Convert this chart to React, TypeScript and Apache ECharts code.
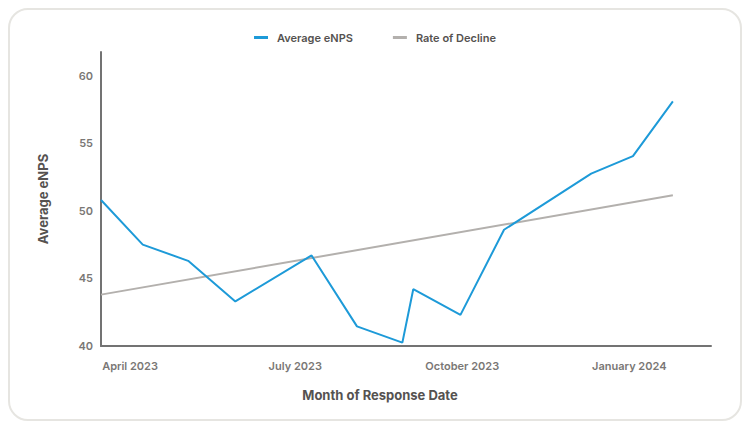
import React, { useEffect, useRef } from "react";
import * as echarts from "echarts";

const responseDates = [
  "2023-03-16", "2023-04-08", "2023-05-03", "2023-05-29", "2023-07-10",
  "2023-08-04", "2023-08-29", "2023-09-04", "2023-09-30", "2023-10-24",
  "2023-12-11", "2024-01-03", "2024-01-25",
];
const averageEnps = [50.8, 47.5, 46.3, 43.3, 46.7, 41.45, 40.25, 44.2, 42.3, 48.6, 52.75, 54.05, 58.1];
const trendDates = ["2023-03-16", "2024-01-25"];
const trendValues = [43.8, 51.15];
const axisStart = "2023-03-16";
const axisEnd = "2024-02-15";
const monthNames = ["January", "February", "March", "April", "May", "June", "July", "August", "September", "October", "November", "December"];

const DAY = 86400000;
const toTs = (s: string) => {
  const [y, m, d] = s.split("-").map(Number);
  return new Date(y, m - 1, d).getTime();
};

const FONT = "Inter, 'Noto Sans', sans-serif";

export default function App() {
  const ref = useRef<HTMLDivElement>(null);
  useEffect(() => {
    if (!ref.current) return;
    const chart = echarts.init(ref.current, undefined, { renderer: "svg" });
    chart.setOption({
      animation: false,
      textStyle: { fontFamily: FONT },
      legend: {
        top: 17,
        left: "center",
        icon: "rect",
        itemWidth: 14,
        itemHeight: 3,
        itemGap: 40,
        textStyle: { fontFamily: FONT, fontSize: 11, fontWeight: 600, color: "#555250", padding: [0, 0, 0, 4] },
        data: ["Average eNPS", "Rate of Decline"],
      },
      grid: { left: 91, right: 29, top: 42, bottom: 73 },
      xAxis: {
        type: "time",
        min: toTs(axisStart),
        max: toTs(axisEnd),
        splitNumber: 12,
        maxInterval: 31 * DAY,
        name: "Month of Response Date",
        nameLocation: "middle",
        nameGap: 42,
        nameTextStyle: { fontFamily: FONT, fontSize: 13, fontWeight: "bold", color: "#555250", padding: [0, 52, 0, 0] },
        axisLine: { show: true, lineStyle: { color: "#737373", width: 2 } },
        axisTick: { show: false },
        splitLine: { show: false },
        axisLabel: {
          margin: 14,
          fontFamily: FONT,
          fontSize: 11,
          fontWeight: 600,
          color: "#7a7775",
          formatter: (v: number) => {
            const d = new Date(v);
            if (d.getDate() === 1 && d.getHours() === 0 && d.getMonth() % 3 === 0) {
              return monthNames[d.getMonth()] + " " + d.getFullYear();
            }
            return "";
          },
        },
      },
      yAxis: {
        type: "value",
        min: 40,
        max: 61.75,
        interval: 5,
        name: "Average eNPS",
        nameLocation: "middle",
        nameGap: 52,
        nameTextStyle: { fontFamily: FONT, fontSize: 13, fontWeight: "bold", color: "#555250" },
        axisLine: { show: true, lineStyle: { color: "#737373", width: 2 } },
        axisTick: { show: false },
        splitLine: { show: false },
        axisLabel: {
          margin: 8,
          fontFamily: FONT,
          fontSize: 11,
          fontWeight: 600,
          color: "#7a7775",
          formatter: (v: number) => (v % 5 === 0 ? String(v) : ""),
        },
      },
      series: [
        {
          name: "Average eNPS",
          type: "line",
          symbol: "none",
          itemStyle: { color: "#1d9ad8" },
          lineStyle: { color: "#1d9ad8", width: 2 },
          data: responseDates.map((d, i) => [toTs(d), averageEnps[i]]),
          z: 3,
        },
        {
          name: "Rate of Decline",
          type: "line",
          symbol: "none",
          itemStyle: { color: "#b3b0ad" },
          lineStyle: { color: "#b3b0ad", width: 2 },
          data: trendDates.map((d, i) => [toTs(d), trendValues[i]]),
          z: 2,
        },
      ],
    });
    return () => chart.dispose();
  }, []);
  return (
    <div
      style={{
        width: 734,
        height: 413,
        border: "2px solid #e6e5e1",
        borderRadius: 20,
        boxSizing: "border-box",
        background: "#fff",
      }}
    >
      <div ref={ref} style={{ width: 730, height: 409 }} />
    </div>
  );
}
